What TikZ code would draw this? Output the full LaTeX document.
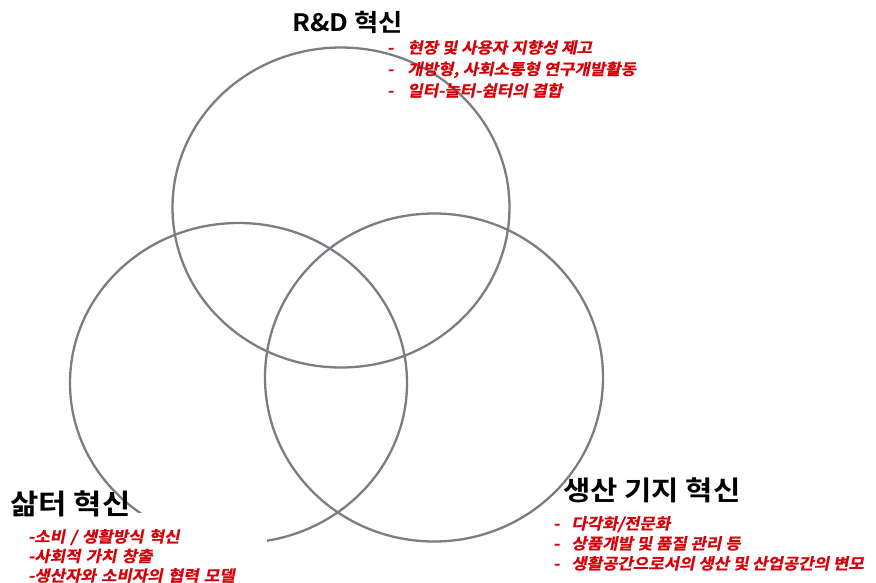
\documentclass[tikz,border=0pt]{standalone}
\usepackage{fontspec}
\setmainfont{Noto Sans CJK KR}
\newfontfamily\headfont[FakeStretch=1.1]{Noto Sans CJK KR Bold}
\newfontfamily\listfont[FakeSlant=0.2, FakeStretch=1.08, FakeBold=0.8]{Noto Sans CJK KR Bold}
\usetikzlibrary{shapes.geometric, positioning}
\definecolor{ringgray}{RGB}{122,126,130}
\definecolor{listred}{RGB}{214,0,8}

\begin{document}
\begin{tikzpicture}[
    x=1pt, y=-1pt,
    ring/.style={ellipse, draw=ringgray, line width=2.3pt, inner sep=0pt},
    head/.style={inner sep=0pt, font=\headfont\fontsize{27}{30}\selectfont, text=black},
    items/.style={inner sep=0pt, align=left, text=listred, font=\listfont\fontsize{15.5}{20}\selectfont}
  ]
    \useasboundingbox (0,0) rectangle (876,583);

    % --- Circles ---
    \node[ring, minimum width=337pt, minimum height=320pt] (rd) at (341,207.5) {};
    \node[ring, minimum width=337pt, minimum height=320pt] (life) at (238.5,383) {};
    \node[ring, minimum width=338pt, minimum height=328pt] (prod) at (434,377.5) {};

    % --- R&D ---
    \node[head, anchor=west, font=\headfont\fontsize{24}{28}\selectfont] (rdhead) at (292,22) {R\&D 혁신};
    \node[items, anchor=north west, font=\listfont\fontsize{15.5}{21.5}\selectfont] (rdlist) at (387,40)
      {-\hspace{14pt}현장 및 사용자 지향성 제고\\
       -\hspace{14pt}개방형, 사회소통형 연구개발활동\\
       -\hspace{14pt}일터-놀터-쉼터의 결합};

    % --- Life ---
    \node[items, anchor=north west, fill=white, inner xsep=8pt, inner ysep=16pt, text width=231pt,
          font=\listfont\fontsize{15.5}{19.5}\selectfont] (lifelist) at (20,513)
      {-소비 / 생활방식 혁신\\
       -사회적 가치 창출\\
       -생산자와 소비자의 협력 모델};
    \node[head, anchor=west, font=\headfont\fontsize{28}{30}\selectfont] (lifehead) at (10,504) {삶터 혁신};

    % --- Production ---
    \node[head, anchor=west] (prodhead) at (563,490) {생산 기지 혁신};
    \node[items, anchor=north west] (prodlist) at (553,516)
      {-\hspace{12pt}다각화/전문화\\
       -\hspace{12pt}상품개발 및 품질 관리 등\\
       -\hspace{12pt}생활공간으로서의 생산 및 산업공간의 변모};

  \end{tikzpicture}
\end{document}
